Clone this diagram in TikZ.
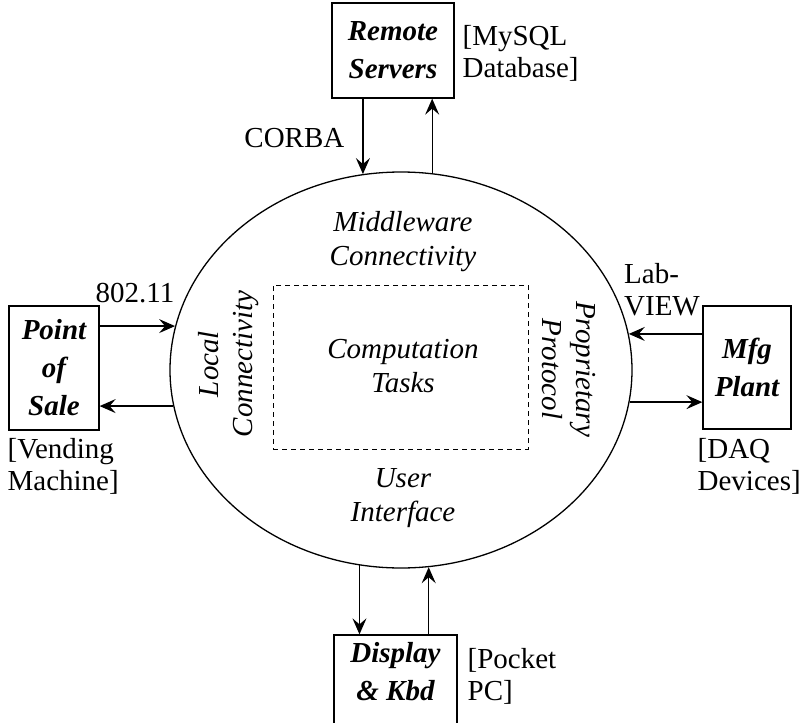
\documentclass[tikz,border=0pt]{standalone}
\usepackage{fontspec}
\setmainfont{Liberation Serif}
\usepackage{tikz}
\usetikzlibrary{shapes,positioning,arrows.meta}

\begin{document}
\begin{tikzpicture}[x=1pt,y=1pt,line width=1.3pt,
  font=\fontsize{29}{32}\selectfont,
  box/.style={draw,rectangle,inner sep=0pt,align=center,font=\fontsize{29}{38}\selectfont\bfseries\itshape},
  lbl/.style={inner sep=0pt,align=left},
  inlbl/.style={inner sep=0pt,align=center,font=\fontsize{29}{34}\selectfont\itshape},
  flow/.style={-{Stealth[length=16pt,width=14pt,inset=6pt]}}]
\clip (0,0) rectangle (809,-723);
\useasboundingbox (0,0) rectangle (809,-723);

% central system
\node[draw,ellipse,minimum width=462pt,minimum height=396pt,inner sep=0pt] (core) at (401,-370) {};
\node[draw,dashed,dash pattern=on 5pt off 4pt,line width=1pt,minimum width=255pt,minimum height=164pt] (tasks) at (400.5,-367) {};
\node[inlbl] at (403,-366) {Computation\\Tasks};
\node[inlbl] at (403,-242) {Middleware\\Connectivity};
\node[inlbl,rotate=90] at (229,-364) {Local\\Connectivity};
\node[inlbl,rotate=-90] at (569,-369) {Proprietary\\Protocol};
\node[inlbl] at (403,-498) {User\\Interface};

% external boxes
\node[box,minimum width=122pt,minimum height=95pt] (rs) at (393,-50.5) {Remote\\Servers};
\node[box,minimum width=90pt,minimum height=124pt] (pos) at (54,-368) {Point\\of\\Sale};
\node[box,minimum width=88pt,minimum height=123pt] (mfg) at (747,-367.5) {Mfg\\Plant};
\node[box,minimum width=123pt,minimum height=95pt,text depth=22pt] (dk) at (395.5,-682.5) {Display\\\& Kbd};

% links
\draw[flow] (core.101.88 |- rs.south) -- (core.101.88);
\draw[flow] (core.81.89) -- (core.81.89 |- rs.south);
\draw[flow] (core.169.96 -| pos.east) -- (core.169.96);
\draw[flow] (core.189.77) -- (core.189.77 -| pos.east);
\draw[flow] (core.9.01 -| mfg.west) -- (core.9.01);
\draw[flow] (core.-8.5) -- (core.-8.5 -| mfg.west);
\draw[flow] (core.-102.47) -- (core.-102.47 |- dk.north);
\draw[flow] (core.-82.18 |- dk.north) -- (core.-82.18);

% labels
\node[lbl,anchor=east] at (345,-138) {CORBA};
\node[lbl,anchor=west] at (462,-53) {[MySQL\\Database]};
\node[lbl] at (135,-293) {802.11};
\node[lbl,anchor=north west] at (7,-438) {[Vending\\Machine]};
\node[lbl] at (662,-290) {Lab-\\VIEW};
\node[lbl,anchor=north west] at (697,-438) {[DAQ\\Devices]};
\node[lbl,anchor=north west] at (467,-648) {[Pocket\\PC]};
\end{tikzpicture}
\end{document}
